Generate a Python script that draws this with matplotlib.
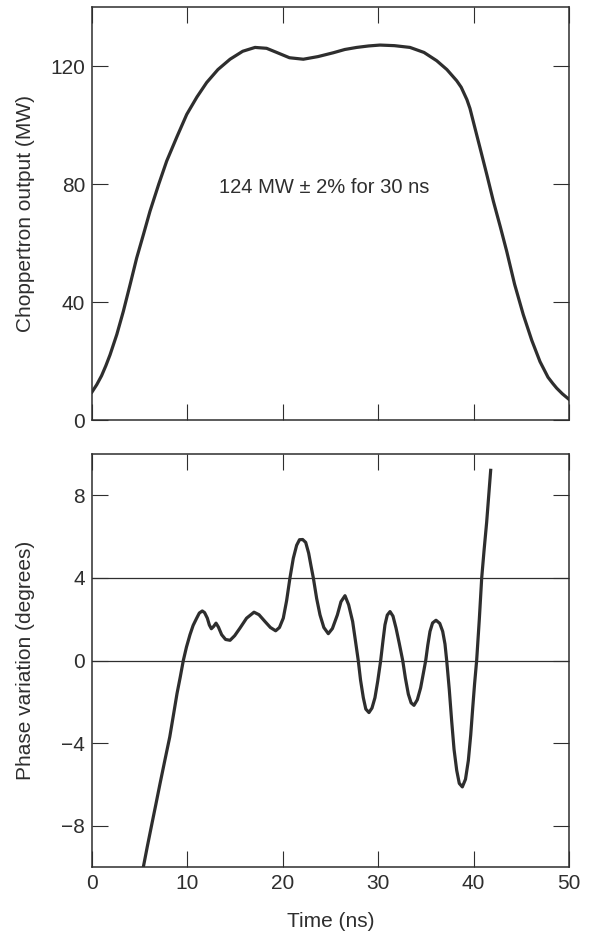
import matplotlib
matplotlib.use("Agg")
import matplotlib.pyplot as plt

plt.rcParams['font.family'] = ['Liberation Sans', 'DejaVu Sans']

INK = '#2e2e2e'

# Top panel: choppertron output power (MW) vs time (ns)
power_time = [0.0, 0.5, 1.0, 1.45, 1.89, 2.6, 3.28, 4.0, 4.68, 5.4, 6.08, 7.0, 7.83,
              8.9, 9.93, 11.0, 12.02, 13.2, 14.47, 15.8, 17.09, 18.3, 19.36, 20.7,
              22.15, 23.7, 25.3, 26.5, 27.75, 29.0, 30.19, 31.7, 33.33, 34.8, 36.13,
              37.2, 38.23, 38.7, 39.3, 39.62, 40.1, 40.67, 41.4, 42.07, 42.8, 43.47,
              44.3, 45.21, 46.1, 46.96, 47.8, 48.3, 48.71, 49.3, 50.0]
power_mw = [9.5, 12.0, 15.0, 18.4, 22.1, 29.0, 36.8, 46.0, 54.9, 63.0, 70.8, 80.0, 87.8,
            96.0, 103.6, 109.5, 114.4, 118.8, 122.3, 125.0, 126.3, 126.0, 124.6, 122.8,
            122.3, 123.2, 124.5, 125.6, 126.3, 126.8, 127.1, 126.9, 126.3, 124.6, 121.8,
            118.8, 115.0, 112.8, 108.6, 105.6, 99.5, 92.3, 83.0, 74.2, 65.5, 57.2,
            46.0, 35.7, 27.0, 19.8, 14.5, 12.4, 10.8, 8.9, 7.0]

# Bottom panel: phase variation (degrees) vs time (ns)
phase_time = [5.38, 5.8, 6.25, 6.7, 7.13, 7.65, 8.15, 8.55, 8.91, 9.25, 9.57, 9.9,
              10.27, 10.6, 10.97, 11.25, 11.56, 11.8, 12.09, 12.3, 12.51, 12.75, 13.0,
              13.25, 13.59, 14.0, 14.47, 14.95, 15.51, 16.2, 16.98, 17.5, 18.13, 18.7,
              19.25, 19.65, 20.05, 20.4, 20.75, 21.1, 21.45, 21.75, 22.08, 22.4, 22.71,
              22.95, 23.2, 23.55, 23.9, 24.3, 24.77, 25.2, 25.72, 26.1, 26.52, 26.9,
              27.32, 27.6, 27.91, 28.15, 28.44, 28.7, 29.03, 29.35, 29.66, 29.95,
              30.26, 30.5, 30.71, 30.95, 31.24, 31.55, 31.87, 32.2, 32.57, 32.85,
              33.16, 33.45, 33.75, 34.1, 34.45, 34.7, 34.98, 35.2, 35.43, 35.7, 36.06,
              36.45, 36.76, 37.0, 37.18, 37.45, 37.7, 37.95, 38.23, 38.5, 38.82,
              39.15, 39.45, 39.7, 39.91, 40.1, 40.32, 40.6, 40.85, 41.1, 41.37, 41.79]
phase_deg = [-10.0, -9.0, -7.97, -6.95, -5.96, -4.8, -3.7, -2.6, -1.6, -0.8, 0.0, 0.65,
             1.25, 1.7, 2.05, 2.3, 2.40, 2.32, 2.05, 1.72, 1.54, 1.65, 1.81,
             1.62, 1.25, 1.02, 0.98, 1.2, 1.57, 2.05, 2.34, 2.22, 1.89, 1.6,
             1.44, 1.6, 2.05, 2.9, 4.0, 4.95, 5.58, 5.85, 5.86, 5.72, 5.2,
             4.6, 4.0, 3.0, 2.21, 1.6, 1.30, 1.55, 2.21, 2.85, 3.14, 2.7,
             1.89, 1.0, 0.0, -0.95, -1.80, -2.35, -2.52, -2.3, -1.80, -1.0,
             0.0, 0.95, 1.73, 2.2, 2.37, 2.15, 1.57, 0.85, 0.0, -0.85,
             -1.63, -2.05, -2.17, -1.9, -1.32, -0.7, 0.0, 0.75, 1.41, 1.82, 1.95,
             1.8, 1.41, 0.8, 0.0, -1.4, -2.92, -4.3, -5.32, -5.95, -6.12,
             -5.75, -4.84, -3.6, -2.28, -1.15, 0.0, 2.0, 4.0, 5.35, 6.70, 9.21]

phase_ref_lines = [0, 4]

x_ticks = [0, 10, 20, 30, 40, 50]
power_ticks = [0, 40, 80, 120]
phase_ticks = [-8, -4, 0, 4, 8]
phase_tick_labels = ['\u22128', '\u22124', '0', '4', '8']

fig = plt.figure(figsize=(5.94, 9.34), dpi=100)
ax1 = fig.add_axes([0.1549, 0.5503, 0.8030, 0.4422])
ax2 = fig.add_axes([0.1549, 0.0717, 0.8030, 0.4422])

for ax in (ax1, ax2):
    ax.set_xlim(0, 50)
    ax.set_xticks(x_ticks)
    ax.tick_params(direction='in', length=11.5, width=0.8, color=INK,
                   top=True, right=True, labelsize=15, labelcolor=INK, pad=5)
    for s in ax.spines.values():
        s.set_linewidth(1.1)
        s.set_color(INK)

ax1.plot(power_time, power_mw, color=INK, lw=2.3, solid_joinstyle='round')
ax1.set_ylim(0, 140)
ax1.set_yticks(power_ticks)
ax1.tick_params(labelbottom=False)
ax1.set_ylabel('Choppertron output (MW)', fontsize=15, color=INK)
ax1.yaxis.set_label_coords(-0.12, 0.5)
ax1.text(24.35, 78.7, '124 MW \u00b1 2% for 30 ns', fontsize=14.5, color=INK,
         ha='center', va='center')

for yv in phase_ref_lines:
    ax2.axhline(yv, color=INK, lw=0.9)
ax2.plot(phase_time, phase_deg, color=INK, lw=2.3, solid_joinstyle='round')
ax2.set_ylim(-10, 10)
ax2.set_yticks(phase_ticks)
ax2.set_yticklabels(phase_tick_labels)
ax2.set_ylabel('Phase variation (degrees)', fontsize=15, color=INK)
ax2.yaxis.set_label_coords(-0.12, 0.5)
ax2.set_xlabel('Time (ns)', fontsize=15, color=INK, labelpad=14)

fig.savefig('out.png', dpi=100, facecolor='white')
